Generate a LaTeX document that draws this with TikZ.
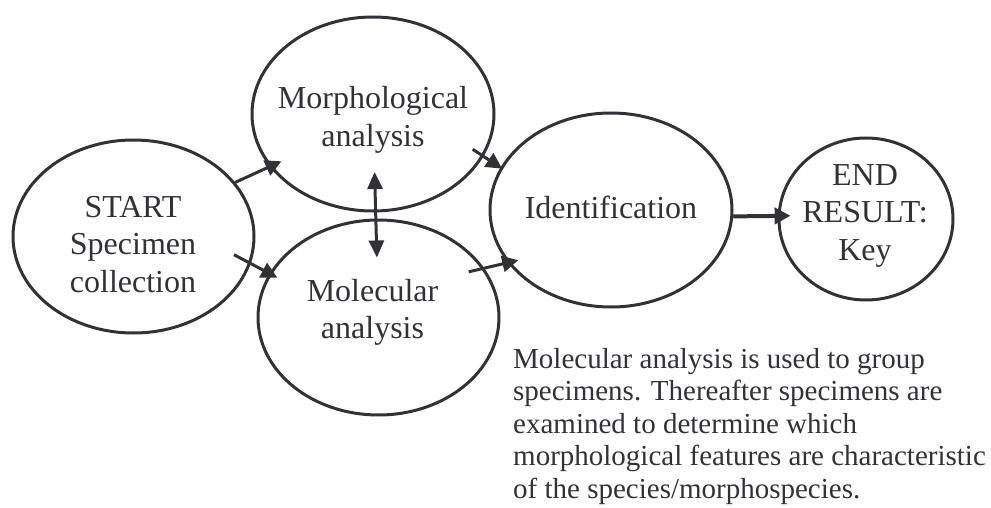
\documentclass[tikz,border=0pt]{standalone}
\usepackage{fontspec}
\setmainfont{Liberation Serif}
\usetikzlibrary{shapes.geometric, arrows.meta}
\definecolor{ink}{RGB}{50,50,54}
\tikzset{
    bubble/.style={ellipse, draw=ink, line width=3pt, inner sep=0pt},
    lbl/.style={font=\fontsize{32}{37.5}\selectfont, text=ink, align=center, inner sep=0pt},
    link/.style={draw=ink, line width=3pt, -{Triangle[length=16pt, width=16pt]}},
    note/.style={font=\fontsize{29}{32.5}\selectfont, text=ink, align=left, inner sep=0pt}
}

\begin{document}
\begin{tikzpicture}[x=1pt, y=-1pt]
\useasboundingbox (0,0) rectangle (991,508);
% Ellipses
    \node[bubble, minimum width=241pt, minimum height=193pt] (start) at (133.5,236.5) {};
    \node[bubble, minimum width=242pt, minimum height=194pt] (morph) at (373,114) {};
    \node[bubble, minimum width=241pt, minimum height=195pt] (molec) at (378.5,317.5) {};
    \node[bubble, minimum width=242pt, minimum height=194pt] (ident) at (611,210) {};
    \node[bubble, minimum width=174pt, minimum height=162pt] (result) at (866,219) {};
% Texts in the ellipses
    \node[lbl] (start-t) at (133,244.5) {START\\Specimen\\collection};
    \node[lbl] (morph-t) at (373,120) {Morphological\\analysis};
    \node[lbl] (molec-t) at (372.5,312.5) {Molecular\\analysis};
    \node[lbl] (ident-t) at (611,207) {Identification};
    \node[lbl] (result-t) at (865,215.5) {END\\RESULT:\\Key};
% Arrows
    \draw[link, shorten >=-13pt] (start.28) -- (morph.207);
    \draw[link, shorten <=-19pt, shorten >=-9pt] (start.-13) -- (molec.158.5);
    \draw[link, {Triangle[length=17pt, width=15pt]}-{Triangle[length=17pt, width=15pt]},
        shorten <=58pt, shorten >=60pt] (morph.center) -- (molec.center);
    \draw[link, shorten <=-13pt, shorten >=-2pt] (morph.-21.7) -- (ident.159.7);
    \draw[link, shorten <=-16pt, shorten >=-11pt] (molec.25.2) -- (ident.207);
    \draw[link, line width=4pt, shorten >=-13pt] (ident.-3) -- (result.178);
% Note
    \node[note, anchor=base west] (caption) at (513,498) {Molecular analysis is used to group\\
        specimens. Thereafter specimens are\\
        examined to determine which\\
        morphological features are characteristic\\
        of the species/morphospecies.};
\end{tikzpicture}
\end{document}
